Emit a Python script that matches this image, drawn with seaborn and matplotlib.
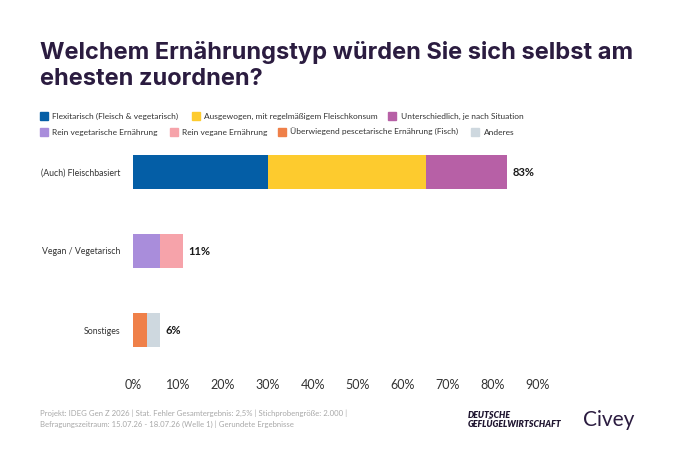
import numpy as np
import pandas as pd
import seaborn as sns
import matplotlib.pyplot as plt
from matplotlib.patches import Patch

groups = ["(Auch) Fleischbasiert", "Vegan / Vegetarisch", "Sonstiges"]
types = [
    "Flexitarisch (Fleisch & vegetarisch)",
    "Ausgewogen, mit regelmäßigem Fleischkonsum",
    "Unterschiedlich, je nach Situation",
    "Rein vegetarische Ernährung",
    "Rein vegane Ernährung",
    "Überwiegend pescetarische Ernährung (Fisch)",
    "Anderes",
]
type_group = [0, 0, 0, 1, 1, 2, 2]
values = [30, 35, 18, 6, 5, 3, 3]
totals = [83, 11, 6]
colors = ["#045EA6", "#FDCB2E", "#B760A6", "#A98DDB", "#F6A3AA", "#EF8049", "#CED8DF"]

df = pd.DataFrame({
    "group": [groups[g] for g in type_group],
    "type": types,
    "value": values,
})
# cumulative ends inside each group, drawn back to front
df["cum"] = df.groupby("group", sort=False)["value"].cumsum()

sns.set_theme(style="white")
plt.rcParams["font.family"] = ["Lato", "DejaVu Sans"]

fig = plt.figure(figsize=(6.76, 4.5), dpi=100)
ax = fig.add_axes([133 / 676, 1 - 369.5 / 450, (538 - 133) / 676, (369.5 - 132.5) / 450])

pal = dict(zip(types, colors))
sns.barplot(data=df, x="cum", y="group", hue="type", order=groups,
            hue_order=types[::-1], palette=pal, dodge=False, width=0.44,
            saturation=1, legend=False, ax=ax, linewidth=0)

for i, t in enumerate(totals):
    ax.text(t + 1.3, i, f"{t}%", va="center", ha="left", fontsize=8,
            fontweight="bold", color="#1a1a1a")

ax.set_xlim(0, 90)
ax.set_ylim(2.5, -0.5)
ax.set_xticks(range(0, 91, 10))
ax.set_xticklabels([f"{v}%" for v in range(0, 91, 10)])
ax.set_xlabel("")
ax.set_ylabel("")
ax.tick_params(axis="x", length=0, pad=7, labelsize=9, labelcolor="#333333")
ax.tick_params(axis="y", length=0, pad=9, labelsize=6.3, labelcolor="#333333")
sns.despine(ax=ax, left=True, bottom=True)

title_kw = dict(fontsize=17, fontweight="bold", color="#2B1C40", va="center", ha="left",
                family=["Inter", "DejaVu Sans"])
fig.text(40 / 676, 1 - 53 / 450, "Welchem Ernährungstyp würden Sie sich selbst am", **title_kw)
fig.text(40 / 676, 1 - 79 / 450, "ehesten zuordnen?", **title_kw)

# legend: one entry per item, rows like the reference
leg_x = [40, 192, 388, 40, 170, 278, 471]
leg_y = [116, 116, 116, 132, 132, 132, 132]
for t, c, lx, ly in zip(types, colors, leg_x, leg_y):
    fig.legend([Patch(color=c)], [t], loc="center left",
               bbox_to_anchor=(lx / 676, 1 - ly / 450), frameon=False, fontsize=6,
               handlelength=1.0, handleheight=1.0, handletextpad=0.5,
               borderaxespad=0, borderpad=0, labelcolor="#333333")

fig.text(40 / 676, 1 - 419 / 450,
         "Projekt: IDEG Gen Z 2026 | Stat. Fehler Gesamtergebnis: 2,5% | Stichprobengröße: 2.000 |\n"
         "Befragungszeitraum: 15.07.26 - 18.07.26 (Welle 1) | Gerundete Ergebnisse",
         fontsize=5.6, color="#A8A8A8", va="center", ha="left", linespacing=1.55)
fig.text(468 / 676, 1 - 420 / 450, "DEUTSCHE\nGEFLÜGELWIRTSCHAFT", fontsize=6.3,
         fontweight="heavy", fontstyle="italic", color="#1F1530", va="center", ha="left",
         linespacing=1.1)
fig.text(583 / 676, 1 - 420 / 450, "Civey", fontsize=15, color="#2B1C40",
         va="center", ha="left")

fig.savefig("out.png", dpi=100)
